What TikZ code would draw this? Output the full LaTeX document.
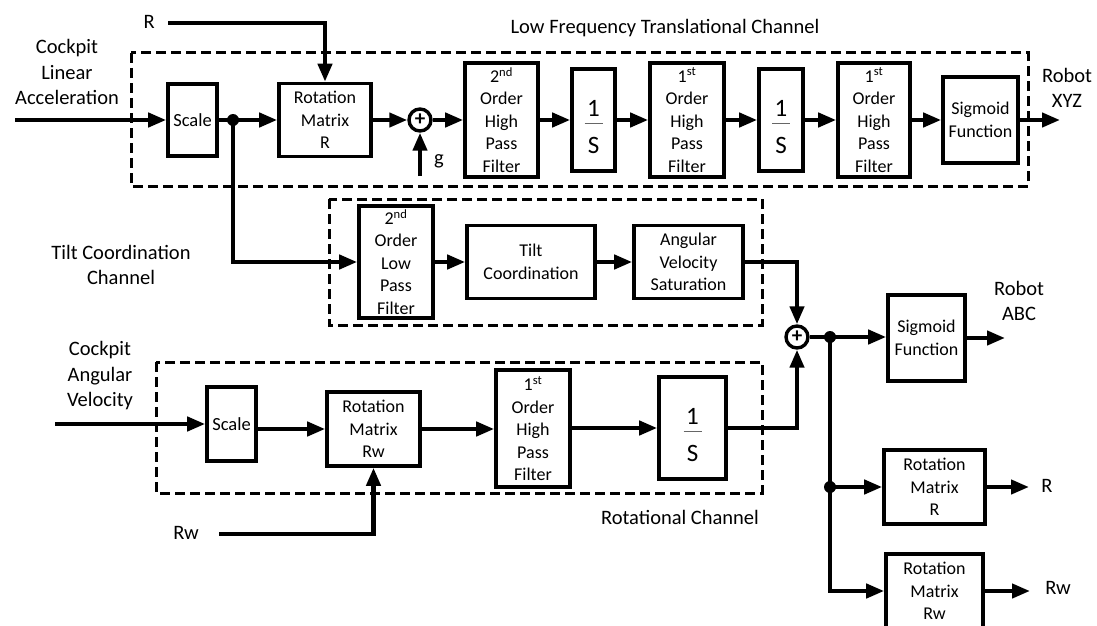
\documentclass[tikz,border=0pt]{standalone}
\usepackage{fontspec}
\setmainfont{Carlito}
\usetikzlibrary{arrows.meta,calc}
\newcommand\invS{{\fontsize{25}{25}\selectfont\vbox{\hbox to 18pt{\hss 1\hss}\kern6pt{\color{black!60}\hrule height 1.2pt}\kern13pt\hbox to 18pt{\hss S\hss}\kern-14pt}}}
\tikzset{
 blk/.style={draw, line width=3.6pt, inner sep=0pt, align=center, font=\fontsize{18}{22.5}\selectfont},
 lbl/.style={align=center, inner sep=0pt, font=\fontsize{20.5}{25.5}\selectfont},
 arr/.style={line width=4.2pt, -{Triangle[length=18pt,width=14pt]}},
 ln/.style={line width=4.2pt},
 grp/.style={line width=3pt, dash pattern=on 10pt off 5pt},
 sumc/.style={circle, draw, line width=3.4pt, minimum size=22pt, inner sep=0pt, font=\fontsize{21}{21}\selectfont\bfseries},
 jdot/.style={circle, fill, minimum size=12pt, inner sep=0pt},
}
\begin{document}
\begin{tikzpicture}[x=1pt,y=-1pt]
\useasboundingbox (0,0) rectangle (1097,626);

% group frames
\draw[grp] (131,53) rectangle (1028,186);
\draw[grp] (329,199) rectangle (762,325);
\draw[grp] (156,362) rectangle (762,493);

% labels
\node[lbl] (tLow) at (665,28) {Low Frequency Translational Channel};
\node[lbl] (tCLA) at (67,72) {Cockpit\\Linear\\Acceleration};
\node[lbl] (tTilt) at (121,265) {Tilt Coordination\\Channel};
\node[lbl] (tCAV) at (100,376) {Cockpit\\Angular\\Velocity};
\node[lbl] (tRot) at (680,517) {Rotational Channel};
\node[lbl] (tXYZ) at (1067,88) {Robot\\XYZ};
\node[lbl] (tABC) at (1019,301) {Robot\\ABC};

% translational row
\node[blk, minimum width=49pt, minimum height=72pt, font=\fontsize{18.5}{22}\selectfont] (scale1) at (192.5,120) {Scale};
\node[blk, minimum width=92pt, minimum height=73pt] (rmR) at (325,120) {Rotation\\Matrix\\R};
\node[sumc] (sum1) at (420,120) {+};
\node[blk, minimum width=73pt, minimum height=114pt] (hp2) at (501.5,120) {2\textsuperscript{nd}\\Order\\High\\Pass\\Filter};
\node[blk, minimum width=43pt, minimum height=102pt] (inv1) at (593.5,120) {\invS};
\node[blk, minimum width=74pt, minimum height=114pt] (hp1a) at (687,120) {1\textsuperscript{st}\\Order\\High\\Pass\\Filter};
\node[blk, minimum width=44pt, minimum height=102pt] (inv2) at (781,120) {\invS};
\node[blk, minimum width=72pt, minimum height=114pt] (hp1b) at (874,120) {1\textsuperscript{st}\\Order\\High\\Pass\\Filter};
\node[blk, minimum width=75pt, minimum height=86pt] (sig1) at (980.5,120) {Sigmoid\\Function};

% tilt row
\node[blk, minimum width=74pt, minimum height=112pt] (lp2) at (396,262) {2\textsuperscript{nd}\\Order\\Low\\Pass\\Filter};
\node[blk, minimum width=128pt, minimum height=73pt] (tilt) at (531,262) {Tilt\\Coordination};
\node[blk, minimum width=109pt, minimum height=73pt] (avs) at (688.5,262) {Angular\\Velocity\\Saturation};

% rotational row
\node[blk, minimum width=49pt, minimum height=74pt, font=\fontsize{18.5}{22}\selectfont] (scale2) at (231.5,424) {Scale};
\node[blk, minimum width=93pt, minimum height=74pt] (rmRw) at (373.5,429) {Rotation\\Matrix\\Rw};
\node[blk, minimum width=74pt, minimum height=117pt] (hp1c) at (533,428.5) {1\textsuperscript{st}\\Order\\High\\Pass\\Filter};
\node[blk, minimum width=67pt, minimum height=102pt] (inv3) at (692.5,428) {\invS};

% output side
\node[sumc] (sum2) at (797,337) {+};
\node[blk, minimum width=77pt, minimum height=86pt] (sig2) at (926.5,338) {Sigmoid\\Function};
\node[blk, minimum width=101pt, minimum height=74pt] (rmR2) at (934.5,487) {Rotation\\Matrix\\R};
\node[blk, minimum width=97pt, minimum height=74pt] (rmRw2) at (934.5,591) {Rotation\\Matrix\\Rw};

% free ends
\coordinate (in1) at (15,120);
\coordinate (Rin) at (168,23);
\coordinate (gin) at (420,176);
\coordinate (out1) at (1060,120);
\coordinate (in2) at (55,424);
\coordinate (Rwin) at (219,534);
\coordinate (out2) at (1005,338);
\coordinate (out3) at (1029,487);
\coordinate (out4) at (1030,591);

\node[lbl, anchor=east] (tR) at (155,22) {R};
\node[lbl] (tg) at (439,161) {g};
\node[lbl] (tRw) at (186,533) {Rw};
\node[lbl] (tR2) at (1047,486) {R};
\node[lbl] (tRw2) at (1058,588) {Rw};

% junctions
\node[jdot] (j1) at (233,120) {};
\node[jdot] (j2) at (830,337) {};
\node[jdot] (j3) at (830,487) {};

% connectors - translational
\draw[arr] (in1) -- (scale1.west);
\draw[arr] (scale1.east) -- (rmR.west);
\draw[arr] (Rin) -| (rmR.north);
\draw[arr] (rmR.east) -- (sum1.west);
\draw[arr] (gin) -- (sum1.south);
\draw[arr] (sum1.east) -- (hp2.west);
\draw[arr] (hp2.east) -- (inv1.west);
\draw[arr] (inv1.east) -- (hp1a.west);
\draw[arr] (hp1a.east) -- (inv2.west);
\draw[arr] (inv2.east) -- (hp1b.west);
\draw[arr] (hp1b.east) -- (sig1.west);
\draw[arr] (sig1.east) -- (out1);

% tilt
\draw[arr] (j1.center) |- (lp2.west);
\draw[arr] (lp2.east) -- (tilt.west);
\draw[arr] (tilt.east) -- (avs.west);
\draw[arr] (avs.east) -| (sum2.north);

% rotational
\draw[arr] (in2) -- (scale2.west);
\draw[arr] (scale2.east |- rmRw.west) -- (rmRw.west);
\draw[arr] (rmRw.east) -- (hp1c.west |- rmRw.east);
\draw[arr] (hp1c.east |- inv3.west) -- (inv3.west);
\draw[arr] (inv3.east) -| (sum2.south);
\draw[arr] (Rwin) -| (rmRw.south);

% output
\draw[arr] (sum2.east) -- (sig2.west |- sum2.east);
\draw[arr] (sig2.east) -- (out2);
\draw[ln] (j2.center) -- (j3.center);
\draw[arr] (j3.center) |- (rmRw2.west);
\draw[arr] (j3.center) -- (rmR2.west);
\draw[arr] (rmR2.east) -- (out3);
\draw[arr] (rmRw2.east) -- (out4);
\end{tikzpicture}
\end{document}
